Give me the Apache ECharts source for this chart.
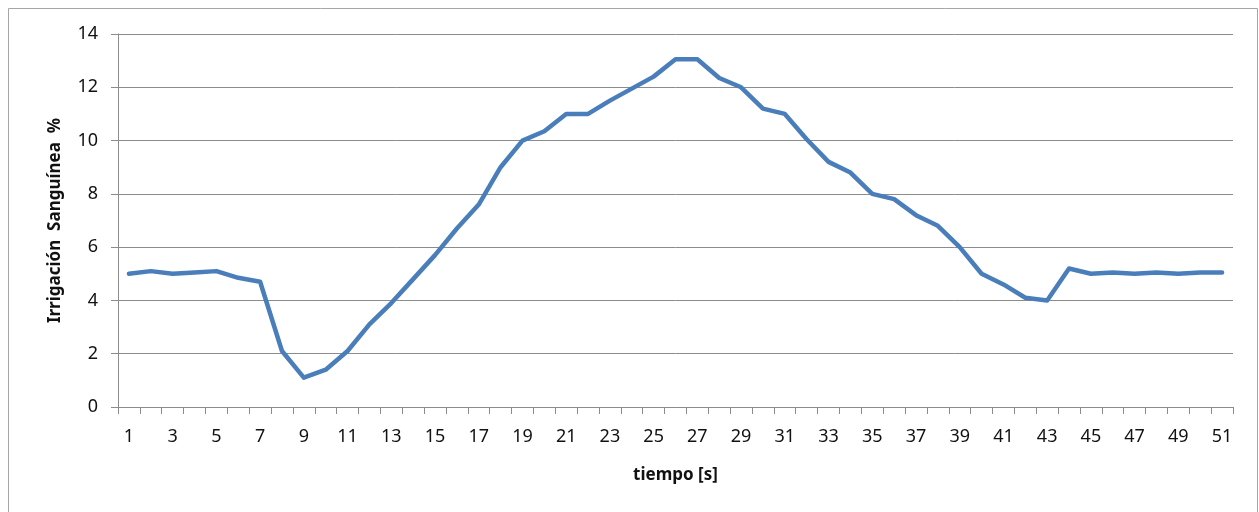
<!DOCTYPE html>
<html>
<head>
<meta charset="utf-8">
<script src="https://cdn.jsdelivr.net/npm/echarts@6/dist/echarts.min.js"></script>
<style>
  html, body { margin: 0; padding: 0; background: #fff; }
  #chart { width: 1259px; height: 512px; }
</style>
</head>
<body>
<div id="chart"></div>
<script>
// Time in seconds (category axis)
const tiempo = Array.from({ length: 51 }, (_, i) => String(i + 1));

// Blood irrigation percentage per second
const irrigacion = [
  5.0, 5.1, 5.0, 5.05, 5.1, 4.85, 4.7, 2.1, 1.1, 1.4,
  2.1, 3.1, 3.9, 4.8, 5.7, 6.7, 7.6, 9.0, 10.0, 10.35,
  11.0, 11.0, 11.5, 11.95, 12.4, 13.05, 13.05, 12.35, 12.0, 11.2,
  11.0, 10.05, 9.2, 8.8, 8.0, 7.8, 7.2, 6.8, 6.0, 5.0,
  4.6, 4.1, 4.0, 5.2, 5.0, 5.05, 5.0, 5.05, 5.0, 5.05,
  5.05
];

const yTicks = { min: 0, max: 14, interval: 2 };

const font = '"Noto Sans", "Open Sans", sans-serif';
const chart = echarts.init(document.getElementById('chart'), null, { renderer: 'canvas' });

chart.setOption({
  animation: false,
  backgroundColor: '#ffffff',
  graphic: [{
    type: 'rect',
    silent: true,
    shape: { x: 8.5, y: 8.5, width: 1249, height: 520 },
    style: { fill: 'none', stroke: '#a6a6a6', lineWidth: 1 }
  }],
  grid: { left: 118, right: 26, top: 34, bottom: 105, containLabel: false },
  xAxis: {
    type: 'category',
    data: tiempo,
    boundaryGap: true,
    name: 'tiempo [s]',
    nameLocation: 'middle',
    nameGap: 60,
    nameTextStyle: { fontFamily: font, fontWeight: 'bold', fontSize: 17, color: '#111' },
    axisLine: { show: true, lineStyle: { color: '#8c8c8c', width: 1 } },
    axisTick: { show: true, interval: 0, length: 7, lineStyle: { color: '#8c8c8c' } },
    axisLabel: { interval: 1, margin: 21, fontFamily: font, fontSize: 18, color: '#111' },
    splitLine: { show: false }
  },
  yAxis: {
    type: 'value',
    min: yTicks.min,
    max: yTicks.max,
    interval: yTicks.interval,
    name: 'Irrigación  Sanguínea  %',
    nameLocation: 'middle',
    nameGap: 54,
    nameRotate: 90,
    nameTextStyle: { fontFamily: font, fontWeight: 'bold', fontSize: 17, color: '#111' },
    axisLine: { show: true, lineStyle: { color: '#8c8c8c', width: 1 } },
    axisTick: { show: true, length: 7, lineStyle: { color: '#8c8c8c' } },
    axisLabel: { margin: 20, fontFamily: font, fontSize: 18, color: '#111' },
    splitLine: { show: true, lineStyle: { color: '#8c8c8c', width: 1 } }
  },
  series: [{
    type: 'line',
    data: irrigacion,
    showSymbol: false,
    symbol: 'none',
    lineStyle: { color: '#4a7ebb', width: 4.5, join: 'round', cap: 'round' },
    itemStyle: { color: '#4a7ebb' }
  }]
});
</script>
</body>
</html>
